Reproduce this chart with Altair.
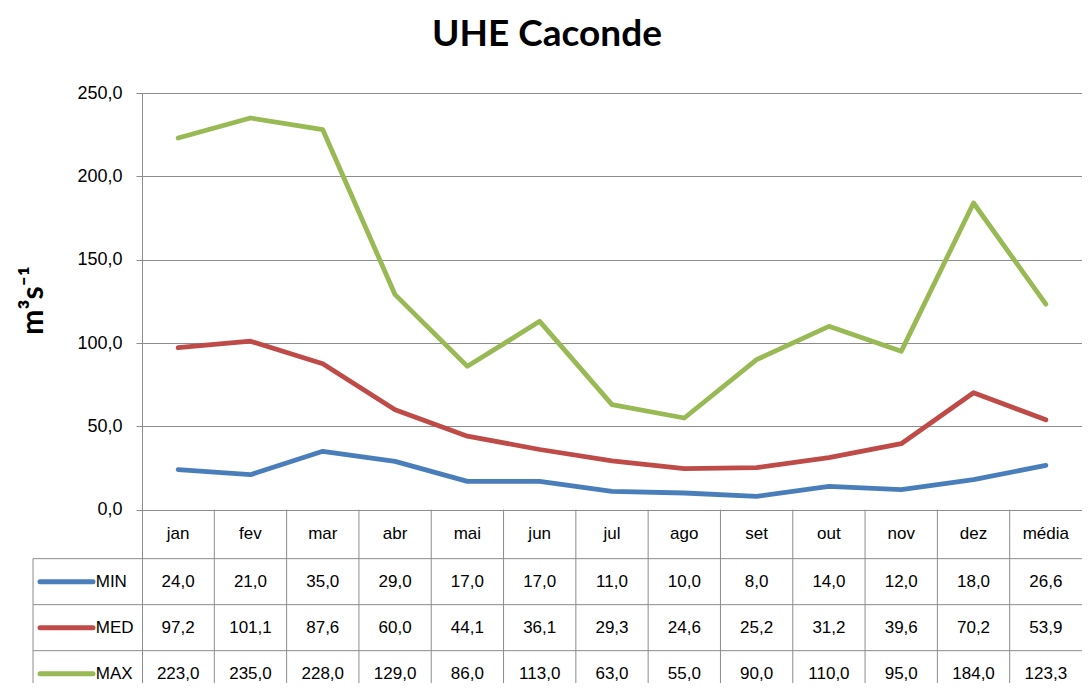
import altair as alt
import pandas as pd

# ---------------- data ----------------
categories = ["jan", "fev", "mar", "abr", "mai", "jun", "jul", "ago", "set", "out", "nov", "dez", "média"]
series_names = ["MIN", "MED", "MAX"]
min_values = [24.0, 21.0, 35.0, 29.0, 17.0, 17.0, 11.0, 10.0, 8.0, 14.0, 12.0, 18.0, 26.6]
med_values = [97.2, 101.1, 87.6, 60.0, 44.1, 36.1, 29.3, 24.6, 25.2, 31.2, 39.6, 70.2, 53.9]
max_values = [223.0, 235.0, 228.0, 129.0, 86.0, 113.0, 63.0, 55.0, 90.0, 110.0, 95.0, 184.0, 123.3]
y_tick_values = [0, 50, 100, 150, 200, 250]
series_colors = ["#4A7EBB", "#BE4B48", "#98B954"]

FONT = "Liberation Sans"
TITLE_FONT = "Lato"
GRID = "#8c8c8c"

series_values = {"MIN": min_values, "MED": med_values, "MAX": max_values}
n = len(categories)

# table layout (in y-scale units below zero)
Y_MIN = -104
HEADER_H = 29.4
ROW_H = 27.6
LEG_LEFT = -1.507
row_center = {s: -(HEADER_H + ROW_H * (k + 0.5)) for k, s in enumerate(series_names)}

rows = []
for s in series_names:
    for i, (c, v) in enumerate(zip(categories, series_values[s])):
        rows.append({"series": s, "cat": c, "pos": i + 0.5, "value": v,
                     "row_y": row_center[s],
                     "label": f"{v:.1f}".replace(".", ",")})
df = pd.DataFrame(rows)

header_df = pd.DataFrame({"cat": categories,
                          "pos": [i + 0.5 for i in range(n)],
                          "y": [-HEADER_H / 2] * n})

hlines = pd.DataFrame({"x": [LEG_LEFT] * 3, "x2": [n] * 3,
                       "y": [-HEADER_H - ROW_H * k for k in range(3)]})
vlines = pd.DataFrame({"x": list(range(1, n)) + [LEG_LEFT],
                       "y": [0] * (n - 1) + [-HEADER_H],
                       "y2": [Y_MIN] * n})

legend_df = pd.DataFrame({"series": series_names,
                          "x": [-1.41] * 3, "x2": [-0.678] * 3, "xl": [-0.64] * 3,
                          "y": [row_center[s] for s in series_names]})

xscale = alt.Scale(domain=[0, n], nice=False, zero=False)
yscale = alt.Scale(domain=[Y_MIN, 250], nice=False, zero=False)
cscale = alt.Scale(domain=series_names, range=series_colors)

y_axis = alt.Axis(
    values=y_tick_values,
    labelExpr="replace(format(datum.value, '.1f'), '.', ',')",
    grid=True, gridColor=GRID, domainColor=GRID, tickColor=GRID,
    tickSize=6, labelPadding=14, labelFont=FONT, labelFontSize=18, labelColor="#000",
    title="m³s⁻¹", titleFont=TITLE_FONT, titleFontSize=30, titleFontWeight="bold",
    titleColor="#000", titleAngle=270, titleX=-109, titleY=207,
    titleAlign="center", titleBaseline="middle",
)


def X(field):
    return alt.X(field, type="quantitative", scale=xscale, axis=None)


def Y(field):
    return alt.Y(field, type="quantitative", scale=yscale, axis=y_axis)


lines = alt.Chart(df).mark_line(strokeWidth=4.8, strokeCap="round", strokeJoin="round").encode(
    x=X("pos"),
    y=Y("value"),
    color=alt.Color("series:N", scale=cscale, legend=None),
    detail="series:N",
)

h_rules = alt.Chart(hlines).mark_rule(color=GRID, strokeWidth=1).encode(
    x=X("x"), x2="x2:Q", y=Y("y"),
)

v_rules = alt.Chart(vlines).mark_rule(color=GRID, strokeWidth=1).encode(
    x=X("x"), y=Y("y"), y2="y2:Q",
)

header_text = alt.Chart(header_df).mark_text(font=FONT, fontSize=17, color="#000", baseline="middle").encode(
    x=X("pos"), y=Y("y"), text="cat:N",
)

cell_text = alt.Chart(df).mark_text(font=FONT, fontSize=17, color="#000", baseline="middle").encode(
    x=X("pos"), y=Y("row_y"), text="label:N",
)

legend_swatch = alt.Chart(legend_df).mark_rule(strokeWidth=5, strokeCap="round").encode(
    x=X("x"), x2="x2:Q", y=Y("y"),
    color=alt.Color("series:N", scale=cscale, legend=None),
)

legend_text = alt.Chart(legend_df).mark_text(font=FONT, fontSize=17, color="#000", align="left",
                                              baseline="middle").encode(
    x=X("xl"), y=Y("y"), text="series:N",
)

chart = alt.layer(
    h_rules, v_rules, lines, header_text, cell_text, legend_swatch, legend_text
).properties(
    width=940,
    height=590,
    title=alt.TitleParams(text="UHE Caconde", font=TITLE_FONT, fontSize=37, fontWeight="bold",
                          color="#000", anchor="middle", offset=30, dx=-65),
    autosize=alt.AutoSizeParams(type="none"),
    padding={"left": 134, "top": 85, "right": 0, "bottom": 0},
).configure(background="white", view=alt.ViewConfig(stroke=None))

chart.save("out.html", embed_options={"renderer": "svg", "actions": False})
